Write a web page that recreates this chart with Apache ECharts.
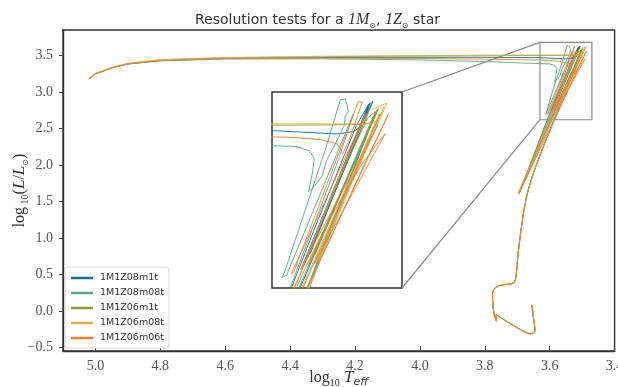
<!DOCTYPE html>
<html><head><meta charset="utf-8">
<script src="https://cdn.jsdelivr.net/npm/echarts@6/dist/echarts.min.js"></script>
<style>html,body{margin:0;padding:0;background:#fff}#c{width:618px;height:387px}</style>
</head><body><div id="c"></div>
<script>
// ---------- data ----------
const seriesNames = ['1M1Z08m1t','1M1Z08m08t','1M1Z06m1t','1M1Z06m08t','1M1Z06m06t'];
const seriesColors = ['#12708f','#55a68c','#8c9c3c','#e0b04c','#f47f30'];
const xTicks = [5.0,4.8,4.6,4.4,4.2,4.0,3.8,3.6,3.4];
const yTicks = [-0.5,0.0,0.5,1.0,1.5,2.0,2.5,3.0,3.5];
const xRange = [3.4,5.1];
const yRange = [-0.55,3.85];
const insetX = [3.47,3.63];
const insetY = [2.62,3.68];

// pre-main-sequence, main sequence, subgiant and lower RGB (shared by all runs)
const earlyTrack = [[3.655,0.08],[3.651,-0.06],[3.647,-0.19],[3.645,-0.275],[3.650,-0.305],[3.660,-0.316],[3.676,-0.292],[3.700,-0.232],[3.724,-0.168],[3.744,-0.112],[3.757,-0.076],[3.765,-0.046],[3.768,-0.030],[3.766,-0.085],[3.764,-0.140],[3.767,-0.118],[3.771,-0.060],[3.774,0.030],[3.776,0.150],[3.776,0.240],[3.773,0.290],[3.765,0.325],[3.752,0.350],[3.735,0.362],[3.718,0.370],[3.709,0.390],[3.705,0.440],[3.702,0.550],[3.700,0.660],[3.696,0.840],[3.691,1.020],[3.686,1.180],[3.681,1.340],[3.676,1.460],[3.671,1.570],[3.666,1.660],[3.660,1.750],[3.648,1.920],[3.635,2.070],[3.618,2.270],[3.599,2.480]];

const tail08m1t = [[3.585,2.63],[3.563,2.88],[3.541,3.13],[3.519,3.38],[3.502,3.57],
 [3.690,1.660],[3.694,1.620],[3.688,1.690],
 [3.670,1.880],[3.648,2.140],[3.624,2.420],[3.600,2.690],[3.576,2.960],[3.550,3.240],[3.526,3.500],[3.511,3.615],
 [3.5933,2.733],[3.5905,2.745],[3.506,3.630],
 [3.585,2.800],[3.582,2.815],[3.509,3.622],
 [3.589,2.770],[3.586,2.785],[3.512,3.600],
 [3.513,3.550],[3.518,3.500],[3.530,3.466],[3.550,3.453],[3.580,3.460],[3.630,3.471],[3.800,3.476],[4.000,3.476],[4.300,3.472],[4.600,3.460],[4.800,3.430],[4.900,3.385],[4.950,3.330],[5.000,3.250],[5.020,3.180]];

const tail08m08t = [[3.586,2.63],[3.564,2.88],[3.542,3.13],[3.520,3.38],[3.505,3.55],
 [3.692,1.660],[3.696,1.620],[3.689,1.690],
 [3.668,1.920],[3.644,2.200],[3.618,2.500],[3.594,2.780],[3.570,3.060],[3.547,3.330],[3.530,3.560],
 [3.612,2.690],[3.618,2.676],[3.615,2.700],
 [3.590,3.030],[3.565,3.360],[3.546,3.637],[3.540,3.642],[3.538,3.618],[3.536,3.573],[3.540,3.552],[3.541,3.500],[3.552,3.400],[3.5624,3.314],[3.5685,3.224],[3.578,3.170],[3.585,3.140],[3.583,3.180],[3.580,3.250],[3.578,3.320],[3.584,3.362],[3.600,3.385],[3.630,3.390],[3.700,3.400],[3.800,3.418],[4.000,3.440],[4.300,3.455],[4.600,3.452],[4.800,3.428],[4.900,3.382],[4.950,3.328],[5.000,3.248],[5.019,3.180]];

const tail06m1t = [[3.583,2.63],[3.561,2.88],[3.538,3.13],[3.515,3.38],[3.497,3.56],
 [3.689,1.660],[3.693,1.620],[3.686,1.690],
 [3.664,1.940],[3.638,2.230],[3.612,2.520],[3.586,2.790],[3.561,3.060],[3.536,3.320],[3.512,3.540],[3.4989,3.590],
 [3.5852,2.746],[3.582,2.760],[3.500,3.585],
 [3.580,2.790],[3.577,2.800],[3.503,3.570],
 [3.503,3.550],[3.506,3.515],[3.520,3.504],[3.560,3.502],[3.630,3.501],[3.800,3.498],[4.000,3.494],[4.300,3.484],[4.600,3.468],[4.800,3.438],[4.900,3.390],[4.950,3.332],[5.000,3.252],[5.020,3.182]];

const tail06m08t = [[3.584,2.63],[3.562,2.88],[3.539,3.13],[3.516,3.38],[3.498,3.56],
 [3.691,1.660],[3.695,1.620],[3.687,1.690],
 [3.665,1.930],[3.640,2.210],[3.614,2.500],[3.588,2.780],[3.562,3.060],[3.536,3.340],[3.510,3.580],[3.4885,3.620],
 [3.575,2.760],[3.572,2.775],[3.492,3.600],
 [3.497,3.550],[3.5055,3.508],[3.530,3.508],[3.630,3.507],[3.800,3.505],[4.000,3.500],[4.300,3.490],[4.600,3.474],[4.800,3.444],[4.900,3.395],[4.950,3.336],[5.000,3.256],[5.022,3.185]];

const tail06m06t = [[3.587,2.62],[3.562,2.85],[3.536,3.10],[3.512,3.33],[3.4866,3.561],
 [3.690,1.650],[3.695,1.600],[3.685,1.700],
 [3.662,1.950],[3.637,2.230],[3.612,2.500],[3.592,2.700],[3.570,2.900],[3.545,3.100],[3.518,3.300],[3.4905,3.456],
 [3.5788,2.748],[3.5765,2.760],[3.522,3.300],[3.500,3.500],
 [3.595,2.720],[3.592,2.730],[3.515,3.560],
 [3.6063,2.697],[3.6035,2.705],[3.5237,3.629],[3.519,3.624],[3.535,3.420],[3.543,3.345],
 [3.550,3.400],[3.570,3.422],[3.600,3.433],[3.630,3.438],[3.800,3.450],[4.000,3.460],[4.300,3.465],[4.600,3.458],[4.800,3.432],[4.900,3.386],[4.950,3.330],[5.000,3.250],[5.020,3.180]];

const tails = [tail08m1t, tail08m08t, tail06m1t, tail06m08t, tail06m06t];

// ---------- chart ----------
const chart = echarts.init(document.getElementById('c'), null, {renderer:'canvas'});
const serif = 'Liberation Serif';
const fmt = v => v.toFixed(1).replace('-', '\u2212');

const series = [];
[0,1].forEach(g => {
  seriesNames.forEach((n,i) => {
    const s = {
      name: n, type: 'line', xAxisIndex: g, yAxisIndex: g,
      data: earlyTrack.concat(tails[i]),
      symbol: 'none', showSymbol: false, clip: true, z: g === 1 ? 6 : 2,
      lineStyle: {width: 1, color: seriesColors[i], opacity: 0.9},
      itemStyle: {color: seriesColors[i]},
      emphasis: {disabled: true}, silent: true, animation: false
    };
    if (g === 0 && i === 0) {
      s.markArea = {
        silent: true,
        itemStyle: {color: 'rgba(0,0,0,0)', borderColor: '#8a8a8a', borderWidth: 1.2},
        data: [[{coord: [insetX[1], insetY[1]]}, {coord: [insetX[0], insetY[0]]}]]
      };
    }
    series.push(s);
  });
});

const option = {
  animation: false,
  backgroundColor: '#fff',
  title: {
    text: '{a|Resolution tests for a }{m|1M}{s|\u2299}{a|, }{m|1Z}{s|\u2299}{a| star}',
    left: 190, top: 5,
    textStyle: {
      fontWeight: 'normal',
      rich: {
        a: {fontFamily: 'DejaVu Sans', fontWeight: 'normal', fontSize: 14, color: '#333', lineHeight: 20},
        m: {fontFamily: serif, fontWeight: 'normal', fontStyle: 'italic', fontSize: 16, color: '#333', lineHeight: 20},
        s: {fontFamily: 'DejaVu Sans', fontWeight: 'normal', fontSize: 8, color: '#333', lineHeight: 11, verticalAlign: 'bottom'}
      }
    }
  },
  legend: {
    data: seriesNames,
    orient: 'vertical', left: 65, top: 267,
    icon: 'rect', itemWidth: 22, itemHeight: 2.5, itemGap: 3,
    padding: [5, 5, 4, 6],
    backgroundColor: '#fff', borderColor: '#d8d8d8', borderWidth: 1, borderRadius: 3,
    textStyle: {fontFamily: 'DejaVu Sans', fontSize: 9.5, color: '#333', lineHeight: 12, padding: [0,0,0,2]}
  },
  grid: [
    {left: 63, right: 3.4, top: 30, bottom: 36, show: true, borderColor: '#333', borderWidth: 1.4, backgroundColor: 'transparent', containLabel: false, outerBoundsMode: 'none'},
    {left: 272, top: 92, width: 130, height: 196, show: true, borderColor: '#333', borderWidth: 1.5, backgroundColor: '#fff', containLabel: false, outerBoundsMode: 'none'}
  ],
  xAxis: [
    {
      type: 'value', gridIndex: 0, min: xRange[0], max: xRange[1], inverse: true,
      name: '{n|log}{sb|10}{i| T}{si|eff}', nameLocation: 'middle', nameGap: 17, nameMoveOverlap: false,
      nameTextStyle: {rich: {
        n: {fontFamily: serif, fontSize: 16, color: '#333', lineHeight: 20},
        sb: {fontFamily: serif, fontSize: 10, color: '#333', lineHeight: 12, verticalAlign: 'bottom'},
        i: {fontFamily: serif, fontStyle: 'italic', fontSize: 17, color: '#333', lineHeight: 20},
        si: {fontFamily: 'DejaVu Sans', fontStyle: 'italic', fontSize: 11, color: '#333', lineHeight: 12, verticalAlign: 'bottom'}
      }},
      axisLine: {show: true, onZero: false, lineStyle: {color: '#333', width: 1.4}},
      axisTick: {show: true, inside: true, length: 5, customValues: xTicks, lineStyle: {color: '#444'}},
      axisLabel: {customValues: xTicks, formatter: fmt, fontFamily: serif, fontSize: 14, color: '#555', margin: 8},
      splitLine: {show: false}
    },
    {
      type: 'value', gridIndex: 1, min: insetX[0], max: insetX[1], inverse: true,
      axisLine: {show: false}, axisTick: {show: false}, axisLabel: {show: false}, splitLine: {show: false}
    }
  ],
  yAxis: [
    {
      type: 'value', gridIndex: 0, min: yRange[0], max: yRange[1],
      name: '{n|log}{sb| 10}{n|(}{i|L}{n|/}{i|L}{s|\u2299}{n|)}', nameLocation: 'middle', nameGap: 33, nameRotate: 90, nameMoveOverlap: false,
      nameTextStyle: {rich: {
        n: {fontFamily: serif, fontSize: 16, color: '#333', lineHeight: 20},
        sb: {fontFamily: serif, fontSize: 10, color: '#333', lineHeight: 12, verticalAlign: 'bottom'},
        i: {fontFamily: serif, fontStyle: 'italic', fontSize: 17, color: '#333', lineHeight: 20},
        s: {fontFamily: 'DejaVu Sans', fontSize: 8, color: '#333', lineHeight: 11, verticalAlign: 'bottom'}
      }},
      axisLine: {show: true, onZero: false, lineStyle: {color: '#333', width: 1.4}},
      axisTick: {show: true, inside: false, length: 4, customValues: yTicks, lineStyle: {color: '#444'}},
      axisLabel: {customValues: yTicks, formatter: fmt, fontFamily: serif, fontSize: 14, color: '#555', margin: 10},
      splitLine: {show: false}
    },
    {
      type: 'value', gridIndex: 1, min: insetY[0], max: insetY[1],
      axisLine: {show: false}, axisTick: {show: false}, axisLabel: {show: false}, splitLine: {show: false}
    }
  ],
  series: series
};
chart.setOption(option);

// connector lines from the inset box to the zoomed region on the main axes
const p1 = chart.convertToPixel({gridIndex: 0}, [insetX[1], insetY[1]]);
const p2 = chart.convertToPixel({gridIndex: 0}, [insetX[1], insetY[0]]);
const q1 = chart.convertToPixel({gridIndex: 1}, [insetX[0], insetY[1]]);
const q2 = chart.convertToPixel({gridIndex: 1}, [insetX[0], insetY[0]]);
chart.setOption({
  graphic: [
    {type: 'line', z: 1, silent: true, shape: {x1: q1[0], y1: q1[1], x2: p1[0], y2: p1[1]}, style: {stroke: '#8a8a8a', lineWidth: 1.2}},
    {type: 'line', z: 1, silent: true, shape: {x1: q2[0], y1: q2[1], x2: p2[0], y2: p2[1]}, style: {stroke: '#8a8a8a', lineWidth: 1.2}}
  ]
});
</script>
</body></html>
